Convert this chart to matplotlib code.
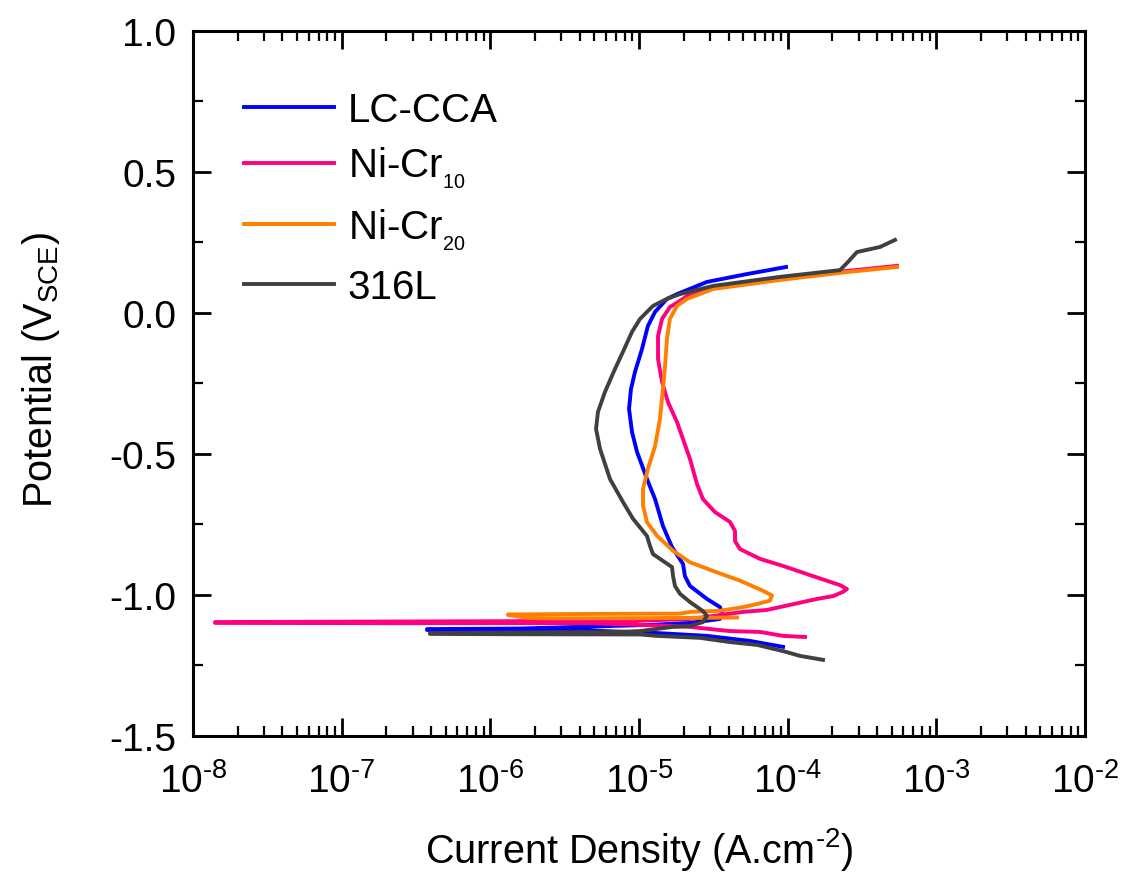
import numpy as np
import matplotlib
matplotlib.use("Agg")
import matplotlib.pyplot as plt
from matplotlib.ticker import (LogLocator, MultipleLocator, FormatStrFormatter,
                               NullFormatter, FuncFormatter)

plt.rcParams["font.family"] = ["Liberation Sans", "DejaVu Sans"]
plt.rcParams["mathtext.fontset"] = "custom"
plt.rcParams["mathtext.rm"] = "Liberation Sans"
plt.rcParams["mathtext.it"] = "Liberation Sans:italic"
plt.rcParams["mathtext.bf"] = "Liberation Sans:bold"
plt.rcParams["axes.unicode_minus"] = False

# polarisation curves: log10 of current density (A/cm2) and potential (V vs SCE),
# scanned from the cathodic end through Ecorr up to the anodic end
lc_logi = [-4.031, -4.253, -4.543, -4.879, -5.330, -5.935, -6.426,
           -6.426, -5.800, -5.330, -4.926, -4.657, -4.455, -4.442, -4.455,
           -4.543, -4.657, -4.691, -4.704, -4.778, -4.839, -4.892, -4.946,
           -5.013, -5.047, -5.067, -5.054, -5.027, -4.980, -4.940, -4.892,
           -4.812, -4.744, -4.543, -4.274, -4.011]
lc_pot = [-1.184, -1.163, -1.145, -1.135, -1.126, -1.125, -1.124,
          -1.121, -1.119, -1.112, -1.106, -1.099, -1.085, -1.064, -1.043,
          -1.014, -0.968, -0.933, -0.890, -0.830, -0.755, -0.660, -0.589,
          -0.493, -0.422, -0.340, -0.270, -0.209, -0.128, -0.046, 0.004,
          0.050, 0.067, 0.110, 0.138, 0.163]

ni10_logi = [-3.883, -4.031, -4.186, -4.388, -4.590, -4.657, -4.993, -5.330,
             -6.608, -7.852,
             -7.852, -5.330, -5.040, -4.657, -4.455, -4.300, -4.139, -3.984,
             -3.803, -3.695, -3.628, -3.601, -3.648, -3.830, -4.031, -4.186,
             -4.321, -4.354, -4.354, -4.388, -4.489, -4.570, -4.610, -4.657,
             -4.704, -4.744, -4.805, -4.845, -4.872, -4.872, -4.845, -4.792,
             -4.724, -4.657, -4.502, -4.052, -3.601, -3.265]
ni10_pot = [-1.149, -1.145, -1.131, -1.128, -1.117, -1.113, -1.106, -1.100,
            -1.100, -1.099,
            -1.096, -1.092, -1.092, -1.085, -1.071, -1.060, -1.053, -1.035,
            -1.014, -1.004, -0.989, -0.979, -0.965, -0.933, -0.897, -0.872,
            -0.837, -0.809, -0.773, -0.741, -0.706, -0.660, -0.606, -0.518,
            -0.447, -0.387, -0.316, -0.245, -0.163, -0.082, -0.021, 0.021,
            0.043, 0.067, 0.092, 0.121, 0.149, 0.167]

ni20_logi = [-4.341, -4.926, -5.531, -5.733, -5.881,
             -5.881, -5.262, -4.724, -4.657, -4.455, -4.300, -4.206, -4.119,
             -4.105, -4.166, -4.321, -4.475, -4.657, -4.771, -4.879, -4.946,
             -4.973, -4.973, -4.940, -4.892, -4.859, -4.839, -4.825, -4.812,
             -4.792, -4.744, -4.677, -4.502, -4.052, -3.601, -3.265]
ni20_pot = [-1.080, -1.082, -1.083, -1.082, -1.071,
            -1.069, -1.067, -1.066, -1.060, -1.056, -1.043, -1.032, -1.020,
            -1.002, -0.985, -0.949, -0.920, -0.884, -0.843, -0.790, -0.742,
            -0.683, -0.624, -0.553, -0.472, -0.376, -0.270, -0.188, -0.092,
            -0.021, 0.025, 0.050, 0.085, 0.117, 0.145, 0.163]

ss_logi = [-3.762, -3.917, -4.031, -4.206, -4.388, -4.590, -4.879, -4.993,
           -5.935, -6.406,
           -6.406, -5.128, -4.993, -4.771, -4.657, -4.570, -4.543, -4.570,
           -4.657, -4.724, -4.758, -4.771, -4.778, -4.839, -4.906, -4.926,
           -4.946, -5.040, -5.108, -5.195, -5.262, -5.289, -5.276, -5.229,
           -5.162, -5.108, -5.047, -4.993, -4.906, -4.812, -4.724, -4.502,
           -4.052, -3.648, -3.594, -3.534, -3.379, -3.278]
ss_pot = [-1.230, -1.216, -1.199, -1.177, -1.167, -1.152, -1.145, -1.140,
          -1.139, -1.138,
          -1.135, -1.131, -1.128, -1.113, -1.110, -1.096, -1.074, -1.057,
          -1.025, -0.996, -0.968, -0.933, -0.901, -0.879, -0.855, -0.826,
          -0.791, -0.730, -0.670, -0.589, -0.482, -0.411, -0.351, -0.280,
          -0.199, -0.138, -0.067, -0.021, 0.025, 0.050, 0.067, 0.096,
          0.128, 0.152, 0.181, 0.216, 0.234, 0.259]

series = [
    ("LC-CCA", lc_logi, lc_pot, "#0000ff"),
    (r"Ni-Cr$_{_{10}}$", ni10_logi, ni10_pot, "#ff0080"),
    (r"Ni-Cr$_{_{20}}$", ni20_logi, ni20_pot, "#ff8000"),
    ("316L", ss_logi, ss_pot, "#404040"),
]


def decade_label(x, pos):
    # 10 with a raised exponent, hyphen instead of a long minus
    exp = int(round(np.log10(x)))
    return r"$\mathregular{10^{\text{%s}}}$" % str(exp)


fig = plt.figure(figsize=(11.24, 8.78), dpi=100)
ax = fig.add_axes([0.1717, 0.1606, 0.7936, 0.8030])

for label, logi, pot, color in series:
    ax.plot(10.0 ** np.array(logi), pot, color=color, lw=2.8, label=label)

ax.set_xscale("log")
ax.set_xlim(1e-8, 1e-2)
ax.set_ylim(-1.5, 1.0)

ax.xaxis.set_major_locator(LogLocator(base=10, numticks=10))
ax.xaxis.set_minor_locator(LogLocator(base=10, subs=np.arange(2, 10), numticks=10))
ax.xaxis.set_major_formatter(FuncFormatter(decade_label))
ax.xaxis.set_minor_formatter(NullFormatter())
ax.yaxis.set_major_locator(MultipleLocator(0.5))
ax.yaxis.set_minor_locator(MultipleLocator(0.25))
ax.yaxis.set_major_formatter(FormatStrFormatter("%.1f"))

for s in ax.spines.values():
    s.set_linewidth(2.2)
ax.tick_params(which="both", direction="in", top=True, right=True, labelsize=28)
ax.tick_params(which="major", length=13, width=2.0)
ax.tick_params(which="minor", length=7, width=1.6)
ax.tick_params(axis="x", which="major", pad=19)
ax.tick_params(axis="y", which="major", pad=12)

ax.set_xlabel(r"Current Density (A.cm$^{\text{-2}}$)", fontsize=28.5, labelpad=18)
ax.set_ylabel(r"Potential (V$_{\mathrm{SCE}}$)", fontsize=28.5, labelpad=34)
ax.yaxis.label.set_y(0.52)

ax.legend(loc="upper left", bbox_to_anchor=(0.057, 0.915), frameon=False,
          fontsize=29, handlelength=2.25, handletextpad=0.33,
          labelspacing=0.4, borderpad=0, borderaxespad=0)

fig.savefig("out.png", dpi=100)
